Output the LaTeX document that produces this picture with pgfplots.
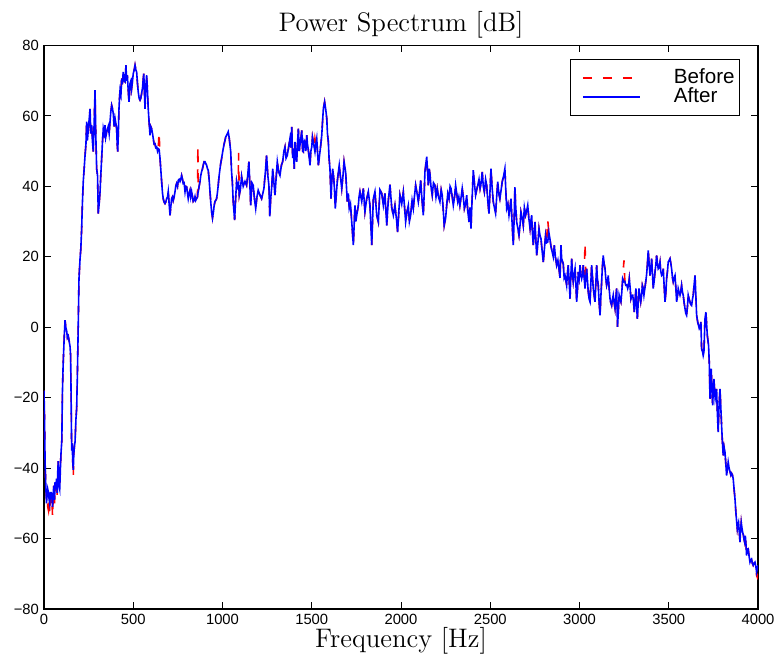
\documentclass[border=0pt]{standalone}
\usepackage{pgfplots}
\pgfplotsset{compat=1.18}
\usepackage{pgfplotstable}
\usepackage{fontspec}
\newfontfamily\hv{Liberation Sans}

\pgfplotstableread{
f b a
0 -18 -18
3 -26 -26
6 -38 -38
10 -45 -45
14 -49 -50
17 -48 -48
21 -51 -46
25 -52 -47
29 -49 -49
32 -53 -50
36 -47 -47
40 -50 -47
44 -48 -48
48 -54 -51
52 -47 -47
55 -45 -45
59 -50 -49
62 -46 -44
66 -47 -46
70 -43 -43
74 -48 -47
77 -41 -41
80 -38 -38
84 -45 -45
88 -46 -46
92 -40 -40
95 -36 -36
100 -32 -32
103 -19 -19
107 -11 -11
110 -7 -7
114 -2 -2
118 2 2
122 0 0
127 -1 -1
131 -3 -3
136 -2.5 -2.5
141 -4 -4
146 -5.5 -5.5
149 -8 -8
152 -20 -20
155 -35 -35
158 -33 -33
161 -38 -38
164 -42.5 -40.5
167 -36 -36
170 -34 -34
174 -32.5 -32.5
179 -26 -26
183 -23 -23
187 -13.7 -13.7
191 -2 -2
196 13.8 13.8
202 19.5 19.5
206 22 22
211 28 28
215 35 35
220 41.4 41.4
225 45 45
230 48.8 48.8
235 52 52
239 58.4 58.4
243 53 53
248 56 56
253 59 59
258 62 62
262 55 55
267 57.4 57.4
271 53 53
276 49.9 49.9
281 58 58
286 67.3 67.3
290 55 55
295 45 45
300 43 43
304 32.3 32.3
309 35 35
314 38.5 38.5
318 43 43
323 47.9 47.9
327 52 52
332 56.4 56.4
337 55 55
342 57.4 57.4
346 54 54
351 55.5 55.5
355 56 56
360 57 57
365 55 55
370 58.4 58.4
374 61 61
379 63 63
384 62 62
388 60.7 60.7
393 57 57
398 59.3 59.3
402 58 58
407 56.4 56.4
410 52 52
413 49.9 49.9
417 56 56
420 62 62
423 65 65
426 67.3 67.3
431 66 66
435 72 70.6
439 69 69
444 72.5 72.5
449 70 70
454 69.7 69.7
457 72 72
459 74.4 74.4
463 70 70
467 71.6 71.6
471 68 68
476 64 64
479 66 66
482 69.2 69.2
487 70 70
491 67.8 67.8
496 70 70
500 72 72
505 73 73
510 74.4 74.4
515 73 73
519 72.5 72.5
524 69 69
528 66.8 66.8
533 65 65
538 64.5 64.5
542 65 65
547 66.4 66.4
552 68 68
556 70.6 70.6
559 72 72
563 66 66
566 62 62
570 68 68
575 71.6 71.6
579 68 68
584 62 62
589 58 58
594 54.5 54.5
598 57 57
603 56.4 56.4
608 55 55
612 53.6 53.6
617 52 52
622 52.1 52.1
626 51 51
631 51.2 51.2
636 50 50
640 50.7 50.7
645 55.5 50.5
650 47.9 47.9
654 45 45
659 41.4 41.4
664 38 38
668 36.5 36.5
673 35.5 35.5
678 35.1 35.1
682 35.5 35.5
687 36.5 36.5
692 37 37
696 38.5 38.5
701 35 35
706 31.8 31.8
710 34 34
715 36.5 36.5
720 37 37
724 36 36
729 37 37
734 38.5 38.5
738 40 40
743 40.8 40.8
748 40 40
752 41.7 41.7
757 42 42
762 41.4 41.4
766 42 42
771 43.1 43.1
776 42 42
780 40.8 40.8
785 41 41
790 38.5 38.5
794 40 40
799 39.9 39.9
804 38 38
808 36.5 36.5
813 38 38
818 38.9 38.9
822 37 37
827 38.5 38.5
832 37 37
836 35.7 35.7
841 36 36
846 37.1 37.1
850 36 36
855 36.5 36.5
860 37 37
862 51.5 38
864 38.5 38.5
869 40 40
874 41.4 41.4
878 43 43
883 44.2 44.2
888 45 45
892 46 46
897 47 47
902 47 47
906 46.5 46.5
911 46 46
916 45 45
920 44.6 44.6
925 42 42
930 38.5 38.5
935 35 35
939 32.8 32.8
944 31 31
950 33 33
953 34.5 34.5
958 35.7 35.7
962 36 36
967 36.5 36.5
971 38 38
976 40.3 40.3
981 43 43
986 45 45
990 46.5 46.5
995 47.9 47.9
1000 49.5 49.5
1004 50.7 50.7
1009 52 52
1014 53.1 53.1
1018 54 54
1023 54.5 54.5
1028 55 55
1032 55.5 55.5
1037 54 54
1042 51.7 51.7
1046 49.9 49.9
1051 44 44
1055 41.4 41.4
1060 35.7 35.7
1064 33 33
1068 30.4 30.4
1073 36 36
1079 41.4 41.4
1084 40 40
1088 40.8 40.8
1090 49.5 41
1094 37.5 37.5
1100 39 39
1107 42.8 42.8
1116 40 40
1126 41.4 41.4
1135 40.3 40.3
1141 43 43
1148 47 47
1158 34.6 34.6
1165 41 41
1172 40.3 40.3
1180 36 36
1186 33.7 33.7
1193 37 37
1200 38.9 38.9
1210 37.5 37.5
1219 36.5 36.5
1226 38 38
1232 39.4 39.4
1240 44 44
1247 48.8 48.8
1254 43 43
1260 40.3 40.3
1265 31.5 31.5
1270 36.5 36.5
1276 40 40
1281 45 45
1288 41 41
1294 37.5 37.5
1300 42 42
1307 47 47
1315 44 44
1322 43.1 43.1
1330 46 46
1337 47 47
1344 50 50
1350 51.2 51.2
1356 48 48
1363 48.8 48.8
1370 51 51
1378 53.6 53.6
1383 51 51
1388 56.9 56.9
1393 48 48
1397 50.7 50.7
1402 45 45
1406 52.6 52.6
1411 49 49
1416 47 47
1420 52 52
1425 56.4 56.4
1430 50 50
1434 51.7 51.7
1440 54 54
1444 55.9 55.9
1449 50 50
1453 49.8 49.8
1458 53 53
1462 52.6 52.6
1467 50 50
1472 54.5 54.5
1476 52 52
1481 50.2 50.2
1486 48 48
1490 46 46
1495 50 50
1500 51.2 51.2
1504 54 54
1509 52.6 52.6
1514 51 51
1518 53.5 49.8
1523 52 52
1528 53.6 53.6
1532 50 50
1537 46 46
1542 48 48
1546 49.8 49.8
1551 52 52
1556 54.5 54.5
1560 58 58
1565 62 62
1572 64 64
1578 62 62
1584 59.3 59.3
1588 55 55
1593 52.6 52.6
1597 48 48
1602 45 45
1608 36.5 36.5
1613 42 42
1617 45 45
1622 43 43
1626 40.3 40.3
1632 33.7 33.7
1638 38 38
1643 41.4 41.4
1649 44 44
1654 46 46
1660 43 43
1668 39.4 39.4
1675 43 43
1681 47 47
1690 44 44
1699 35.7 35.7
1705 38 38
1710 33.7 33.7
1717 35 35
1724 29.9 29.9
1733 23.3 23.3
1742 34.6 34.6
1747 30 30
1752 31.8 31.8
1761 34.6 34.6
1765 37 37
1770 38.5 38.5
1780 35.7 35.7
1789 39.4 39.4
1798 32.8 32.8
1808 36.5 36.5
1817 38.5 38.5
1826 34.6 34.6
1836 23.3 23.3
1845 36.5 36.5
1854 38.5 38.5
1864 31.8 31.8
1873 29.9 29.9
1882 39 39
1892 38 38
1901 34.6 34.6
1910 38 38
1920 28.9 28.9
1929 36 36
1938 40.5 40.5
1948 34 34
1957 31.8 31.8
1966 34.6 34.6
1976 30 30
1981 27 27
1988 33 33
1994 37.5 37.5
2004 35 35
2013 38.4 38.4
2020 34 34
2026 29.9 29.9
2034 33 33
2041 34.6 34.6
2047 30 30
2054 31.8 31.8
2062 36 36
2069 33.7 33.7
2075 37 37
2082 40.3 40.3
2090 38 38
2097 35.6 35.6
2103 38 38
2110 41.7 41.7
2118 36 36
2125 31.8 31.8
2130 38 38
2134 44.1 44.1
2144 48.4 48.4
2149 44 44
2153 40.3 40.3
2158 45 45
2162 43.6 43.6
2168 40 40
2175 37.5 37.5
2182 41 41
2190 40.3 40.3
2196 37 37
2203 39.4 39.4
2210 37 37
2218 35.6 35.6
2225 39 39
2231 37.5 37.5
2237 33 33
2242 28.9 28.9
2250 31 31
2256 34.6 34.6
2262 38 38
2269 36.5 36.5
2275 40 40
2280 39.4 39.4
2287 37 37
2293 34.6 34.6
2300 37 37
2306 40.3 40.3
2312 38 38
2318 35.6 35.6
2324 37 37
2330 34.6 34.6
2337 37 37
2343 39.4 39.4
2349 37 37
2355 33.7 33.7
2362 35 35
2368 37.5 37.5
2374 33 33
2381 29.9 29.9
2386 34 34
2392 28 28
2398 36 36
2405 44.6 44.6
2411 41 41
2418 37.5 37.5
2424 39 39
2430 40.3 40.3
2437 42 42
2443 39.4 39.4
2449 41 41
2455 44.1 44.1
2461 40 40
2467 38.4 38.4
2474 42 42
2480 40.3 40.3
2486 36 36
2493 32.3 32.3
2498 38 38
2504 45 45
2510 40 40
2517 35.6 35.6
2523 34 34
2530 32.3 32.3
2536 37 37
2542 41.3 41.3
2548 38 38
2554 36.5 36.5
2561 39 39
2567 41.3 41.3
2575 43 43
2582 45 45
2587 39 39
2592 33.7 33.7
2599 35 35
2605 31.8 31.8
2611 34 34
2616 36.5 36.5
2622 30 30
2629 23.3 23.3
2634 31 31
2638 39.8 39.8
2643 34 34
2648 29.9 29.9
2655 28 28
2661 26.1 26.1
2667 29 29
2672 32.7 32.7
2679 31 31
2685 28.9 28.9
2691 34 34
2698 31.8 31.8
2704 33 33
2710 34.6 34.6
2716 31 31
2723 28 28
2727 30 30
2732 31.8 31.8
2736 27 27
2741 23.3 23.3
2746 27 27
2751 29.9 29.9
2755 25 25
2760 20.4 20.4
2767 24 24
2773 28 28
2779 26 26
2784 25.2 25.2
2790 22 22
2797 18.5 18.5
2803 22 22
2810 26.1 26.1
2816 24 24
2822 30.5 24.2
2828 27 27
2834 25.2 25.2
2840 23 23
2847 21.4 21.4
2853 20 20
2859 23.3 23.3
2865 20 20
2872 17.6 17.6
2879 19 19
2885 16.6 16.6
2891 14 14
2896 23.3 23.3
2900 19.5 19.5
2909 18 18
2914 14 14
2919 14.7 14.7
2928 11.9 11.9
2932 15 15
2937 17.6 17.6
2942 13 13
2947 8.1 8.1
2951 14 14
2956 19.5 19.5
2961 15 15
2965 12.9 12.9
2970 15 15
2975 16.6 16.6
2980 12 12
2984 7.2 7.2
2989 11 11
2993 15.7 15.7
2998 14 14
3003 17.6 17.6
3007 15 15
3012 13.8 13.8
3017 15 15
3021 17.6 17.6
3026 14 14
3031 24 11
3035 14 14
3040 16.6 16.6
3045 13 13
3049 10.1 10.1
3054 8 8
3059 7.2 7.2
3063 12 12
3068 17.6 17.6
3073 14 14
3077 11 11
3082 9 9
3087 7.2 7.2
3091 12 12
3096 17.6 17.6
3100 14 14
3105 11.9 11.9
3110 7 7
3115 3.4 3.4
3119 8 8
3124 12.9 12.9
3128 17 17
3133 20.4 20.4
3138 18 18
3143 16.6 16.6
3147 14 14
3152 11.9 11.9
3157 13 13
3161 14.7 14.7
3166 11 11
3171 8.1 8.1
3175 7 7
3180 6.2 6.2
3185 8 8
3189 9.1 9.1
3194 7 7
3199 5.3 5.3
3203 8 8
3208 11 11
3213 0.1 0.1
3218 5 5
3222 9.1 9.1
3227 8 8
3232 7.2 7.2
3237 10 10
3242 13.8 13.8
3249 19 12.9
3254 13 13
3259 11.9 11.9
3265 12 12
3270 11 11
3275 12 12
3279 13.8 13.8
3284 11 11
3288 8.1 8.1
3293 9 9
3298 9.1 9.1
3303 7 7
3307 4.3 4.3
3312 8 8
3316 11 11
3320 6 6
3324 2.4 2.4
3329 7 7
3333 11 11
3338 9 9
3343 7.2 7.2
3348 9 9
3352 11.9 11.9
3357 11 11
3361 9.1 9.1
3366 11 11
3371 12.9 12.9
3376 15 15
3380 17.6 17.6
3385 21.8 21.8
3390 18 18
3395 14.7 14.7
3400 17 17
3404 19.5 19.5
3409 15 15
3413 11 11
3418 13 13
3423 15.7 15.7
3428 18 18
3432 20.4 20.4
3437 18 18
3441 16.6 16.6
3446 17 17
3451 18.5 18.5
3455 16 16
3460 14.7 14.7
3465 15 15
3469 16.6 16.6
3474 12 12
3479 7.2 7.2
3484 10 10
3488 13.8 13.8
3493 16 16
3497 18.5 18.5
3502 19 19
3507 19.5 19.5
3512 18 18
3516 16.6 16.6
3521 14 14
3525 12.9 12.9
3530 14 14
3535 14.7 14.7
3540 11 11
3544 7.2 7.2
3549 9 9
3553 11 11
3558 10 10
3563 9.1 9.1
3567 10 10
3572 11.9 11.9
3577 10 10
3581 9.1 9.1
3586 7 7
3591 5.3 5.3
3595 4 4
3600 3.4 3.4
3605 6 6
3609 9.1 9.1
3614 8 8
3619 7.2 7.2
3623 6.5 6.5
3628 6.2 6.2
3633 8 8
3637 9.1 9.1
3642 12 12
3647 14.7 14.7
3651 10 10
3656 3.5 3.5
3662 1.5 1.5
3667 0.5 0.5
3671 -0.4 -0.4
3675 0 0
3680 1.5 1.5
3684 -6.1 -6.1
3690 -7.1 -7.1
3693 -8 -8
3697 -7 -7
3703 2.4 2.4
3708 4.3 4.3
3712 1 1
3716 -2.3 -2.3
3723 -5.2 -5.2
3727 -10 -10
3731 -20.3 -20.3
3735 -13 -13
3738 -11.8 -11.8
3742 -18 -18
3746 -22.2 -22.2
3750 -17 -17
3753 -14.7 -14.7
3757 -18 -18
3760 -20.3 -20.3
3764 -19 -19
3768 -17.5 -17.5
3772 -24 -24
3777 -29.8 -29.8
3782 -22 -22
3787 -17.5 -17.5
3791 -22 -22
3796 -27.9 -27.9
3800 -32 -32
3805 -36.4 -36.4
3810 -34 -34
3815 -35.5 -35.5
3820 -39 -39
3824 -42.1 -42.1
3829 -40 -40
3833 -38.3 -38.3
3838 -40 -40
3843 -41 -41
3848 -42 -42
3852 -41.5 -41.5
3857 -42 -42
3861 -43 -43
3866 -46 -46
3871 -48.7 -48.7
3876 -52.5 -52.5
3880 -55 -55
3884 -57.3 -57.3
3888 -56 -56
3891 -55.4 -55.4
3895 -58 -58
3899 -61 -61
3902 -58 -58
3906 -55.4 -55.4
3910 -57 -57
3914 -58.2 -58.2
3918 -59 -59
3921 -60.1 -60.1
3925 -61 -61
3929 -59.2 -59.2
3933 -62 -62
3936 -64.8 -64.8
3940 -63 -63
3945 -62.9 -62.9
3950 -65 -65
3955 -66.7 -66.7
3960 -66 -66
3964 -65.8 -65.8
3968 -67 -67
3973 -67.6 -67.6
3978 -67 -67
3983 -66.7 -66.7
3988 -68 -68
3992 -70.5 -69.5
3996 -71 -68.5
4000 -70 -67.6
}\spec

\begin{document}
\begin{tikzpicture}
\begin{axis}[
  scale only axis,
  width=357pt, height=281.75pt,
  xmin=0, xmax=4000, ymin=-80, ymax=80,
  xtick={0,500,1000,1500,2000,2500,3000,3500,4000},
  xticklabels={0,500,1000,1500,2000,2500,3000,3500,4000},
  ytick={-80,-60,-40,-20,0,20,40,60,80},
  yticklabels={−80,−60,−40,−20,0,20,40,60,80},
  tick label style={font=\hv\fontsize{7.4}{8.5}\selectfont},
  xticklabel style={inner xsep=0pt, yshift=1pt},
  yticklabel style={xshift=1pt},
  major tick length=3.5pt,
  tick align=inside,
  tick style={black, line width=0.5pt},
  axis line style={line width=0.6pt},
  every axis title shift=0pt,
  title={Power Spectrum [dB]},
  title style={font=\fontsize{13.4}{16}\selectfont, inner sep=0pt, at={(axis description cs:0.5,1)}, anchor=base, yshift=6.9pt},
  xlabel={Frequency [Hz]},
  xlabel style={font=\fontsize{13.4}{16}\selectfont, inner sep=0pt, at={(axis description cs:0.5,0)}, anchor=base, yshift=-19.5pt},
  legend style={at={(axis description cs:0.975,0.9755)}, anchor=north east,
    font=\hv\fontsize{10.3}{11}\selectfont, draw=black, line width=0.5pt,
    inner xsep=1.5pt, inner ysep=4.5pt, row sep=0pt, column sep=0pt,
    nodes={inner xsep=1pt, inner ysep=0pt, text height=7.3pt, text depth=2.2pt}},
  legend cell align=left,
  legend image code/.code={\draw[#1] (4.5pt,0pt) -- (33pt,0pt); \path[draw=none, fill=none] (0pt,0pt) rectangle (49pt,0pt);},
]
\addplot[red, line width=0.8pt, dash pattern=on 4.5pt off 5.5pt] table[x=f, y=b] {\spec};
\addlegendentry{Before}
\addplot[blue, line width=0.8pt] table[x=f, y=a] {\spec};
\addlegendentry{After}
\end{axis}
\path ([shift={(-22pt,-26.5pt)}]current axis.south west) rectangle ([shift={(10pt,22.75pt)}]current axis.north east);
\end{tikzpicture}
\end{document}
